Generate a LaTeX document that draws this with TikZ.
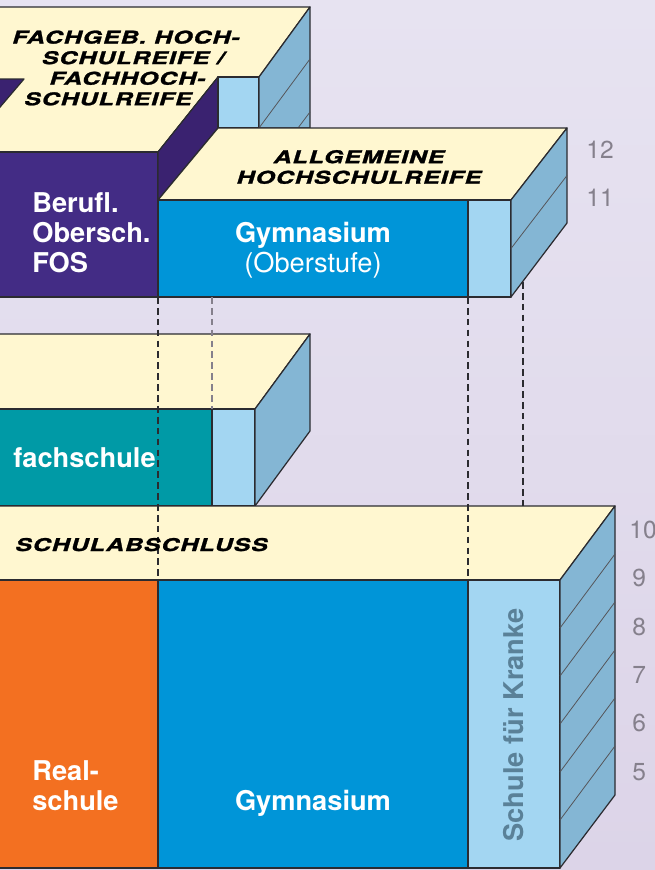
\documentclass[tikz,border=0pt]{standalone}
\usepackage{fontspec}
\setmainfont{TeX Gyre Heros}
\newfontfamily\widefont[FakeStretch=1.42,FakeSlant=0.3,FakeBold=1.4,LetterSpace=5]{TeX Gyre Heros}
\definecolor{bgtop}{RGB}{231,227,241}
\definecolor{bgbot}{RGB}{220,212,232}
\definecolor{cream}{RGB}{255,247,208}
\definecolor{fosviolet}{RGB}{67,44,133}
\definecolor{fosside}{RGB}{58,34,112}
\definecolor{gymblue}{RGB}{0,149,216}
\definecolor{paleblue}{RGB}{163,214,242}
\definecolor{steel}{RGB}{132,182,212}
\definecolor{fsteal}{RGB}{0,154,166}
\definecolor{realorange}{RGB}{243,112,33}
\definecolor{edge}{RGB}{43,43,48}
\definecolor{gradegray}{RGB}{133,128,140}
\definecolor{krankegray}{RGB}{90,129,152}

\begin{document}
\begin{tikzpicture}[x=0.2mm,y=-0.2mm,
    face/.style={draw=edge,line width=0.7pt,line join=round},
    hatch/.style={draw=edge!80,line width=0.45pt},
    guide/.style={draw=edge,line width=0.7pt,dash pattern=on 3.8pt off 2.4pt},
    school/.style={text=white,inner sep=0pt,font=\fontsize{15.5}{17}\selectfont\bfseries},
    reife/.style={inner sep=0pt,align=center,font=\widefont\fontsize{10}{11.7}\selectfont\bfseries},
    year/.style={text=gradegray,inner sep=0pt,anchor=west,font=\fontsize{14}{16}\selectfont}]
    \useasboundingbox (0,0) rectangle (655,870);
    \shade[top color=bgtop,bottom color=bgbot] (0,0) rectangle (655,870);

    \draw[face,fill=cream] (-5,7) -- (310,7) -- (259,77) -- (218,77) -- (158,152) -- (-5,152) -- cycle;
    \draw[face,fill=fosside] (-5,79) -- (24,79) -- (-5,113) -- cycle;
    \draw[face,fill=fosviolet] (-5,152) rectangle (158,297);
    \draw[face,fill=fosside] (158,152) -- (218,77) -- (218,128) -- (158,200) -- cycle;
    \draw[face,fill=paleblue] (218,77) rectangle (259,128);
    \draw[face,fill=steel] (259,77) -- (310,7) -- (310,128) -- (259,128) -- cycle;
    \draw[hatch] (259,128) -- (310,59);
    \draw[hatch] (298,128) -- (310,112);

    \draw[face,fill=cream] (158,200) -- (218,128) -- (567,128) -- (511,200) -- cycle;
    \draw[face,fill=gymblue] (158,200) rectangle (468,297);
    \draw[face,fill=paleblue] (468,200) rectangle (511,297);
    \draw[face,fill=steel] (511,200) -- (567,128) -- (567,223) -- (511,297) -- cycle;
    \draw[hatch] (511,248.5) -- (567,175.5);

    \draw[face,fill=cream] (-5,334) -- (310,334) -- (255,409) -- (-5,409) -- cycle;
    \draw[face,fill=fsteal] (-5,409) rectangle (212,506);
    \draw[face,fill=paleblue] (212,409) rectangle (255,506);
    \draw[face,fill=steel] (255,409) -- (310,334) -- (310,431) -- (255,506) -- cycle;

    \draw[face,fill=cream] (-5,506) -- (615,506) -- (560,580) -- (-5,580) -- cycle;
    \draw[face,fill=realorange] (-5,580) rectangle (158,868);
    \draw[face,fill=gymblue] (158,580) rectangle (468,868);
    \draw[face,fill=paleblue] (468,580) rectangle (560,868);
    \draw[face,fill=steel] (560,580) -- (615,506) -- (615,795) -- (560,868) -- cycle;
    \foreach \k in {1,...,5}
        \draw[hatch] (560,580+48*\k) -- (615,506+48*\k);

    \draw[guide] (158,297) -- (158,580);
    \draw[guide,draw=gradegray] (212,297) -- (212,409);
    \draw[guide] (468,297) -- (468,580);
    \draw[guide] (523,282) -- (523,506);

    \node[reife] (fhr) at (125,68) {FACHGEB. HOCH-\\\hspace*{2.8mm}SCHULREIFE /\\\hspace*{0.6mm}FACHHOCH-\\SCHULREIFE\hspace*{7.2mm}};
    \node[reife] (ahr) at (358,167) {ALLGEMEINE\\HOCHSCHULREIFE};
    \node[reife,anchor=base west] (abschluss) at (14,551) {SCHULABSCHLUSS};

    \node[school,align=left,anchor=base west] (fos) at (32,272) {Berufl.\\Obersch.\\FOS};
    \node[school,align=center,anchor=base] (gymober) at (313,272) {Gymnasium\\\mdseries(Oberstufe)};
    \node[school,anchor=base west] (fachsch) at (13,467) {fachschule};
    \node[school,align=left,anchor=base west] (real) at (32,810) {Real-\\schule};
    \node[school,anchor=base] (gym) at (313,810) {Gymnasium};
    \node[school,text=krankegray,rotate=90] (kranke) at (514,725) {Schule für Kranke};

    \node[year] (y12) at (586,150) {12};
    \node[year] (y11) at (586,198) {11};
    \node[year] (y10) at (629,530) {10};
    \foreach \g/\yy in {9/578,8/627,7/675,6/723,5/772}
        \node[year] (y\g) at (632,\yy) {\g};
\end{tikzpicture}
\end{document}
